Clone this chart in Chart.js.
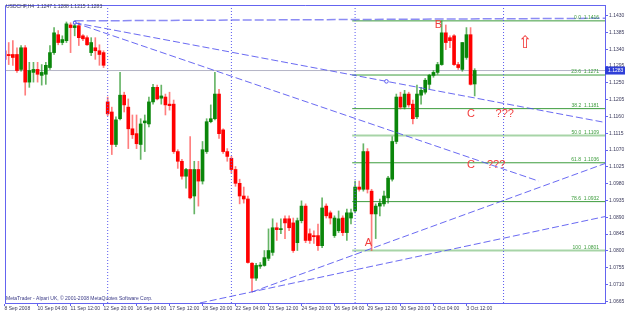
<!DOCTYPE html>
<html>
<head>
<meta charset="utf-8">
<script src="https://cdn.jsdelivr.net/npm/chart.js@4.4.1/dist/chart.umd.min.js"></script>
<style>
  html, body { margin: 0; padding: 0; background: #fff; }
</style>
</head>
<body>
<canvas id="chart" width="625" height="312"></canvas>
<script>
// USDCHF H4 bars, bar 0 = 8 Sep 2008 20:00, last bar = 3 Oct 20:00
const opens = [
  1.1336, 1.1326, 1.1326, 1.1326, 1.1286, 1.1344, 1.1252, 1.1278, 1.1286, 1.1270,
  1.1273, 1.1291, 1.1331, 1.1379, 1.1358, 1.1363, 1.1405, 1.1398, 1.1403, 1.1376,
  1.1371, 1.1331, 1.1344, 1.1336, 1.1331, 1.1199, 1.1172, 1.1085, 1.1154, 1.1217,
  1.1185, 1.1127, 1.1114, 1.1085, 1.1143, 1.1140, 1.1199, 1.1238, 1.1209, 1.1212,
  1.1193, 1.1193, 1.1066, 1.1040, 1.1000, 1.1018, 1.0947, 1.1018, 1.0987, 1.1066,
  1.1146, 1.1154, 1.1220, 1.1124, 1.1066, 1.1048, 1.1018, 1.0981, 1.0947, 1.0939,
  1.0767, 1.0727, 1.0759, 1.0761, 1.0780, 1.0796, 1.0862, 1.0857, 1.0886, 1.0886,
  1.0875, 1.0822, 1.0881, 1.0920, 1.0846, 1.0841, 1.0841, 1.0814, 1.0920, 1.0902,
  1.0841, 1.0854, 1.0888, 1.0849, 1.0888, 1.0907, 1.0971, 1.0965, 1.1066, 1.0960,
  1.0899, 1.0920, 1.0926, 1.0942, 1.0992, 1.1093, 1.1212, 1.1185, 1.1220, 1.1193,
  1.1159, 1.1217, 1.1225, 1.1246, 1.1270, 1.1278, 1.1299, 1.1384, 1.1371, 1.1376,
  1.1299, 1.1286, 1.1318, 1.1379, 1.1247
];
const highs = [
  1.1344, 1.1358, 1.1363, 1.1344, 1.1350, 1.1350, 1.1305, 1.1305, 1.1305, 1.1299,
  1.1305, 1.1350, 1.1398, 1.1390, 1.1376, 1.1413, 1.1411, 1.1416, 1.1411, 1.1379,
  1.1376, 1.1371, 1.1371, 1.1352, 1.1336, 1.1212, 1.1185, 1.1159, 1.1278, 1.1225,
  1.1207, 1.1164, 1.1164, 1.1154, 1.1164, 1.1212, 1.1246, 1.1244, 1.1244, 1.1220,
  1.1225, 1.1204, 1.1071, 1.1045, 1.1021, 1.1106, 1.1040, 1.1040, 1.1093, 1.1154,
  1.1191, 1.1278, 1.1233, 1.1127, 1.1074, 1.1053, 1.1026, 1.0992, 1.0971, 1.0947,
  1.0769, 1.0767, 1.0769, 1.0801, 1.0859, 1.0886, 1.0875, 1.0886, 1.0894, 1.0894,
  1.0888, 1.0888, 1.0934, 1.0926, 1.0859, 1.0854, 1.0872, 1.0942, 1.0926, 1.0907,
  1.0894, 1.0907, 1.0894, 1.0912, 1.0912, 1.0987, 1.0987, 1.1087, 1.1074, 1.0965,
  1.0926, 1.0939, 1.0960, 1.1000, 1.1106, 1.1220, 1.1225, 1.1230, 1.1225, 1.1204,
  1.1244, 1.1238, 1.1262, 1.1273, 1.1283, 1.1305, 1.1416, 1.1405, 1.1376, 1.1379,
  1.1305, 1.1358, 1.1398, 1.1398, 1.1288
];
const lows = [
  1.1305, 1.1299, 1.1297, 1.1278, 1.1281, 1.1217, 1.1238, 1.1252, 1.1252, 1.1244,
  1.1246, 1.1286, 1.1326, 1.1352, 1.1352, 1.1358, 1.1331, 1.1376, 1.1350, 1.1363,
  1.1350, 1.1323, 1.1313, 1.1297, 1.1291, 1.1162, 1.1058, 1.1079, 1.1151, 1.1172,
  1.1074, 1.1101, 1.1074, 1.1045, 1.1066, 1.1132, 1.1193, 1.1204, 1.1193, 1.1164,
  1.1177, 1.1061, 1.1021, 1.0992, 1.0968, 1.0939, 1.0899, 1.0920, 1.0979, 1.1061,
  1.1143, 1.1151, 1.1101, 1.1061, 1.1040, 1.1008, 1.0973, 1.0926, 1.0928, 1.0767,
  1.0690, 1.0721, 1.0753, 1.0759, 1.0774, 1.0788, 1.0828, 1.0846, 1.0833, 1.0854,
  1.0796, 1.0801, 1.0875, 1.0822, 1.0820, 1.0820, 1.0801, 1.0809, 1.0888, 1.0872,
  1.0836, 1.0849, 1.0841, 1.0828, 1.0872, 1.0902, 1.0960, 1.0960, 1.0955, 1.0801,
  1.0833, 1.0894, 1.0920, 1.0928, 1.0987, 1.1087, 1.1180, 1.1180, 1.1185, 1.1140,
  1.1154, 1.1193, 1.1220, 1.1233, 1.1265, 1.1273, 1.1297, 1.1339, 1.1344, 1.1297,
  1.1286, 1.1281, 1.1313, 1.1244, 1.1215
];
const closes = [
  1.1313, 1.1323, 1.1318, 1.1283, 1.1344, 1.1252, 1.1283, 1.1286, 1.1273, 1.1278,
  1.1297, 1.1331, 1.1384, 1.1358, 1.1366, 1.1408, 1.1398, 1.1403, 1.1371, 1.1368,
  1.1352, 1.1358, 1.1336, 1.1326, 1.1297, 1.1167, 1.1085, 1.1151, 1.1217, 1.1191,
  1.1127, 1.1111, 1.1087, 1.1140, 1.1148, 1.1199, 1.1238, 1.1207, 1.1215, 1.1191,
  1.1189, 1.1066, 1.1040, 1.1000, 1.1018, 1.0942, 1.1018, 1.0987, 1.1071, 1.1146,
  1.1154, 1.1220, 1.1114, 1.1066, 1.1053, 1.1018, 1.0981, 1.0947, 1.0939, 1.0769,
  1.0727, 1.0761, 1.0762, 1.0782, 1.0801, 1.0862, 1.0857, 1.0859, 1.0875, 1.0862,
  1.0801, 1.0881, 1.0920, 1.0828, 1.0828, 1.0838, 1.0814, 1.0915, 1.0894, 1.0888,
  1.0888, 1.0886, 1.0849, 1.0902, 1.0902, 1.0971, 1.0965, 1.1066, 1.0965, 1.0899,
  1.0920, 1.0928, 1.0947, 1.0995, 1.1093, 1.1212, 1.1185, 1.1220, 1.1191, 1.1154,
  1.1220, 1.1230, 1.1257, 1.1270, 1.1278, 1.1299, 1.1384, 1.1358, 1.1363, 1.1299,
  1.1291, 1.1358, 1.1379, 1.1246, 1.1283
];

// time axis labels, one every 8 bars
const xTickBars = [0, 8, 16, 24, 32, 40, 48, 56, 64, 72, 80, 88, 96, 104, 112];
const xTickLabels = ['8 Sep 2008', '10 Sep 04:00', '11 Sep 12:00', '12 Sep 20:00', '16 Sep 04:00',
  '17 Sep 12:00', '18 Sep 20:00', '22 Sep 04:00', '23 Sep 12:00', '24 Sep 20:00', '26 Sep 04:00',
  '29 Sep 12:00', '30 Sep 20:00', '2 Oct 04:00', '3 Oct 12:00'];
const yTicks = [1.1430, 1.1385, 1.1340, 1.1295, 1.1250, 1.1205, 1.1160, 1.1115, 1.1070, 1.1025,
  1.0980, 1.0935, 1.0890, 1.0845, 1.0800, 1.0755, 1.0710, 1.0665];

// drawn objects
const fibLevels = ['0.0', '23.6', '38.2', '50.0', '61.8', '78.6', '100'];
const fibPrices = [1.1416, 1.1271, 1.1181, 1.1109, 1.1036, 1.0932, 1.0801];
const fibStartBar = 84.3;
const trendFrom = [[17, 1.1416], [17, 1.1411], [17, 1.1411], [60, 1.0690], [45, 1.0655]];
const trendTo = [[145.6, 1.1423], [145.6, 1.1144], [129.5, 1.0987], [145.6, 1.1034], [145.6, 1.0892]];
const markerBars = [17, 92.6];
const markerPrices = [1.1411, 1.1254];
const separatorBars = [25, 55, 85, 121];
const noteText = ['B', 'A', 'C', '???', 'C', '???', '\u21E7'];
const noteBars = [105.2, 88.2, 113.1, 121.3, 113.1, 119.2, 126.2];
const notePrices = [1.1405, 1.0820, 1.1167, 1.1167, 1.1029, 1.1029, 1.1355];

// view window
const xMin = 0.1, xMax = 145.6;
const yMin = 1.06605, yMax = 1.14585;

const BLUE = '#6464f0';
const TXT = '#3a3a5c';
const FONT = '"Liberation Sans", Arial, sans-serif';
const last = closes.length - 1;
const bars = closes.map((c, i) => i);
const up = bars.map(i => closes[i] >= opens[i]);

const datasets = [];

// bid line and fibo levels (behind candles)
datasets.push({
  type: 'line', order: 4, data: [{ x: xMin, y: closes[last] }, { x: xMax, y: closes[last] }],
  borderColor: '#b4b4c6', borderWidth: 1, pointRadius: 0
});
fibPrices.forEach((p, i) => {
  const pale = fibLevels[i] === '50.0' || fibLevels[i] === '100';
  datasets.push({
    type: 'line', order: 3, data: [{ x: fibStartBar, y: p }, { x: xMax, y: p }],
    borderColor: pale ? 'rgba(60,160,60,0.45)' : '#3c9c3c', borderWidth: pale ? 2 : 1, pointRadius: 0
  });
});

// candles
datasets.push({
  type: 'bar', order: 2, grouped: false, barThickness: 3, minBarLength: 1,
  data: bars.map(i => ({ x: i, y: [opens[i], closes[i]] })),
  backgroundColor: up.map(u => u ? '#0a860a' : '#ff0000')
});
datasets.push({
  type: 'bar', order: 2.5, grouped: false, barThickness: 1,
  data: bars.map(i => ({ x: i, y: [lows[i], highs[i]] })),
  backgroundColor: up.map(u => u ? 'rgba(20,140,20,0.65)' : 'rgba(255,40,40,0.6)')
});

// trend lines
trendFrom.forEach((f, i) => {
  datasets.push({
    type: 'line', order: 1,
    data: [{ x: f[0], y: f[1] }, { x: trendTo[i][0], y: trendTo[i][1] }],
    borderColor: i === 0 ? 'rgba(90,90,240,0.7)' : 'rgba(80,80,240,0.85)',
    borderWidth: i === 0 ? 1.5 : 1, borderDash: i === 0 ? [9, 3] : [7, 3], pointRadius: 0
  });
});
// vertical separators
separatorBars.forEach(b => {
  datasets.push({
    type: 'line', order: 1, data: [{ x: b, y: yMin }, { x: b, y: yMax }],
    borderColor: '#5a5af0', borderWidth: 1, borderDash: [1, 2], pointRadius: 0
  });
});
// anchor markers
datasets.push({
  type: 'line', order: 0, showLine: false,
  data: markerBars.map((b, i) => ({ x: b, y: markerPrices[i] })),
  pointStyle: ['rect', 'circle'], pointRadius: 1.8, borderWidth: 1,
  pointBorderColor: '#5a5af0', pointBackgroundColor: '#ffffff'
});

const overlay = {
  id: 'overlay',
  afterDraw(chart) {
    const { ctx, chartArea: a, scales: { x, y } } = chart;
    ctx.save();
    // frame
    ctx.strokeStyle = BLUE;
    ctx.lineWidth = 1;
    ctx.beginPath();
    ctx.moveTo(a.left + 0.5, a.bottom);
    ctx.lineTo(a.left + 0.5, a.top + 0.5);
    ctx.lineTo(a.right, a.top + 0.5);
    ctx.stroke();

    // fibo labels
    ctx.font = '5px ' + FONT;
    ctx.fillStyle = '#3c9c3c';
    ctx.textAlign = 'right';
    ctx.textBaseline = 'bottom';
    fibLevels.forEach((lv, i) => {
      ctx.fillText(lv + '  ' + fibPrices[i].toFixed(4), a.right - 6, y.getPixelForValue(fibPrices[i]) - 0.5);
    });

    // text objects
    ctx.fillStyle = '#f23c3c';
    ctx.textAlign = 'center';
    ctx.textBaseline = 'middle';
    noteText.forEach((t, i) => {
      ctx.font = (t === '\u21E7' ? '17px "DejaVu Sans"' : '11px ' + FONT);
      ctx.fillText(t, x.getPixelForValue(noteBars[i]), y.getPixelForValue(notePrices[i]));
    });

    // header and copyright
    ctx.font = '5px ' + FONT;
    ctx.fillStyle = TXT;
    ctx.textAlign = 'left';
    ctx.textBaseline = 'alphabetic';
    ctx.fillText('USDCHF,H4  ' + [opens[last], highs[last], lows[last], closes[last]].map(v => v.toFixed(4)).join(' '), a.left + 1, 8);
    ctx.fillStyle = '#3a3a86';
    ctx.fillText('MetaTrader - Alpari UK, \u00A9 2001-2008 MetaQuotes Software Corp.', a.left + 1, a.bottom - 3);

    // current price box
    const py = y.getPixelForValue(closes[last]);
    ctx.fillStyle = '#2f3fd8';
    ctx.fillRect(a.right, py - 4, 20, 8);
    ctx.fillStyle = '#ffffff';
    ctx.textBaseline = 'middle';
    ctx.fillText(closes[last].toFixed(4), a.right + 3, py);
    ctx.restore();
  }
};

new Chart(document.getElementById('chart'), {
  type: 'bar',
  data: { datasets },
  plugins: [overlay],
  options: {
    responsive: false,
    devicePixelRatio: 1,
    animation: false,
    layout: { padding: { left: 2, top: 2, right: 0, bottom: 0 } },
    plugins: { legend: { display: false }, tooltip: { enabled: false } },
    scales: {
      x: {
        type: 'linear', position: 'bottom', min: xMin, max: xMax, offset: false,
        afterBuildTicks: s => { s.ticks = xTickBars.map(v => ({ value: v })); },
        afterFit: s => { s.height = 9; },
        ticks: {
          callback: (v, i) => xTickLabels[i], align: 'start', labelOffset: 0, padding: 0,
          maxRotation: 0, minRotation: 0, autoSkip: false, color: TXT, font: { family: FONT, size: 5 }
        },
        grid: { drawOnChartArea: false, offset: false, tickLength: 3, color: BLUE },
        border: { color: BLUE }
      },
      y: {
        type: 'linear', position: 'right', min: yMin, max: yMax,
        afterBuildTicks: s => { s.ticks = yTicks.map(v => ({ value: v })); },
        afterFit: s => { s.width = 20; },
        ticks: {
          callback: v => v.toFixed(4), padding: 1, autoSkip: false,
          color: TXT, font: { family: FONT, size: 5 }
        },
        grid: { drawOnChartArea: false, tickLength: 3, color: BLUE },
        border: { color: BLUE }
      }
    }
  }
});
</script>
</body>
</html>
